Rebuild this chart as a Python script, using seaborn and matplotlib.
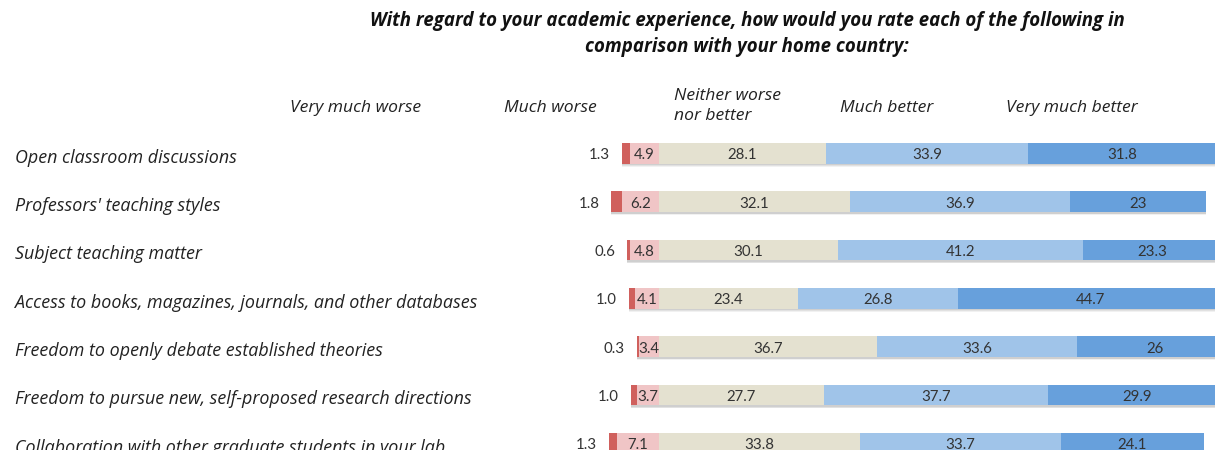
import matplotlib
matplotlib.use("Agg")
import matplotlib.pyplot as plt
import numpy as np
import pandas as pd
import seaborn as sns

# Survey items and response shares (%)
items = [
    "Open classroom discussions",
    "Professors' teaching styles",
    "Subject teaching matter",
    "Access to books, magazines, journals, and other databases",
    "Freedom to openly debate established theories",
    "Freedom to pursue new, self-proposed research directions",
    "Collaboration with other graduate students in your lab",
]
very_much_worse = [1.3, 1.8, 0.6, 1.0, 0.3, 1.0, 1.3]
much_worse = [4.9, 6.2, 4.8, 4.1, 3.4, 3.7, 7.1]
neither = [28.1, 32.1, 30.1, 23.4, 36.7, 27.7, 33.8]
much_better = [33.9, 36.9, 41.2, 26.8, 33.6, 37.7, 33.7]
very_much_better = [31.8, 23, 23.3, 44.7, 26, 29.9, 24.1]

vmw_labels = ["1.3", "1.8", "0.6", "1.0", "0.3", "1.0", "1.3"]
vmb_labels = ["31.8", "23", "23.3", "44.7", "26", "29.9", "24.1"]

categories = ["Very much worse", "Much worse", "Neither worse\nnor better",
              "Much better", "Very much better"]

title = ("With regard to your academic experience, how would you rate each of the following in\n"
         "comparison with your home country:")

colors = {
    "vmw": "#D0605D",
    "mw": "#F0C5C6",
    "neu": "#E4E1D0",
    "mb": "#A0C4E9",
    "vmb": "#67A0DC",
}

df = pd.DataFrame({
    "item": items,
    "vmw": very_much_worse,
    "mw": much_worse,
    "neu": neither,
    "mb": much_better,
    "vmb": very_much_better,
})
# Diverging layout: the neutral segment starts at 0, the "worse" shares sit to its left
df["start"] = -(df["vmw"] + df["mw"])
df["neg_mw"] = -df["mw"]
df["end_neu"] = df["neu"]
df["end_mb"] = df["neu"] + df["mb"]
df["end_vmb"] = df["neu"] + df["mb"] + df["vmb"]

W, H, DPI = 1215, 450, 100
sns.set_style("white")
fig = plt.figure(figsize=(W / DPI, H / DPI), dpi=DPI)
ax = fig.add_axes([0, 0, 1, 1])

px_per_unit = 5.95
x0_px = 659
row0_px, row_step = 153.5, 48.3

bar_h = 0.43
ypos = np.arange(len(items))

# soft shadow under each bar
for off, alpha in [(0.06, 0.08), (0.045, 0.10), (0.03, 0.12)]:
    ax.barh(ypos + off, df["end_vmb"] - df["start"], left=df["start"], height=bar_h,
            color="#555555", alpha=alpha, linewidth=0, zorder=1)

common = dict(y="item", orient="h", order=items, width=bar_h, ax=ax,
              linewidth=0, zorder=2, saturation=1)
# layered segments: widest cumulative extent first
sns.barplot(data=df, x="end_vmb", color=colors["vmb"], **common)
sns.barplot(data=df, x="end_mb", color=colors["mb"], **common)
sns.barplot(data=df, x="end_neu", color=colors["neu"], **common)
sns.barplot(data=df, x="start", color=colors["vmw"], **common)
sns.barplot(data=df, x="neg_mw", color=colors["mw"], **common)

ax.set_xlim((0 - x0_px) / px_per_unit, (W - x0_px) / px_per_unit)
ax.set_ylim((H - row0_px) / row_step, (0 - row0_px) / row_step)
ax.axis("off")

num_font = dict(family="Lato", fontsize=10.8, color="#333333")
for i, r in df.iterrows():
    yc = i + 0.04
    ax.text(r["start"] - 2.0, yc, vmw_labels[i], ha="right", va="center", **num_font)
    ax.text(-r["mw"] / 2, yc, f"{r['mw']:.1f}", ha="center", va="center", **num_font)
    ax.text(r["neu"] / 2, yc, f"{r['neu']:.1f}", ha="center", va="center", **num_font)
    ax.text(r["neu"] + r["mb"] / 2, yc, f"{r['mb']:.1f}", ha="center", va="center", **num_font)
    ax.text(r["end_mb"] + r["vmb"] / 2, yc, vmb_labels[i], ha="center", va="center", **num_font)
    ax.text((15 - x0_px) / px_per_unit, i + 0.09, r["item"], ha="left", va="center",
            family="Open Sans", style="italic", fontsize=12.9, color="#222222")

def fx(px):
    return px / W

def fy(py):
    return 1 - py / H

head = dict(family="Open Sans", style="italic", fontsize=12.6, color="#222222")
fig.text(fx(356), fy(108), categories[0], ha="center", va="center", **head)
fig.text(fx(550), fy(108), categories[1], ha="center", va="center", **head)
fig.text(fx(674), fy(106), categories[2], ha="left", va="center", linespacing=1.3, **head)
fig.text(fx(887), fy(108), categories[3], ha="center", va="center", **head)
fig.text(fx(1072), fy(108), categories[4], ha="center", va="center", **head)

fig.text(fx(747), fy(34), title, ha="center", va="center", family="Open Sans",
         style="italic", fontweight="bold", fontsize=13.4, color="#111111",
         linespacing=1.42)

fig.savefig("out.png", dpi=DPI)
